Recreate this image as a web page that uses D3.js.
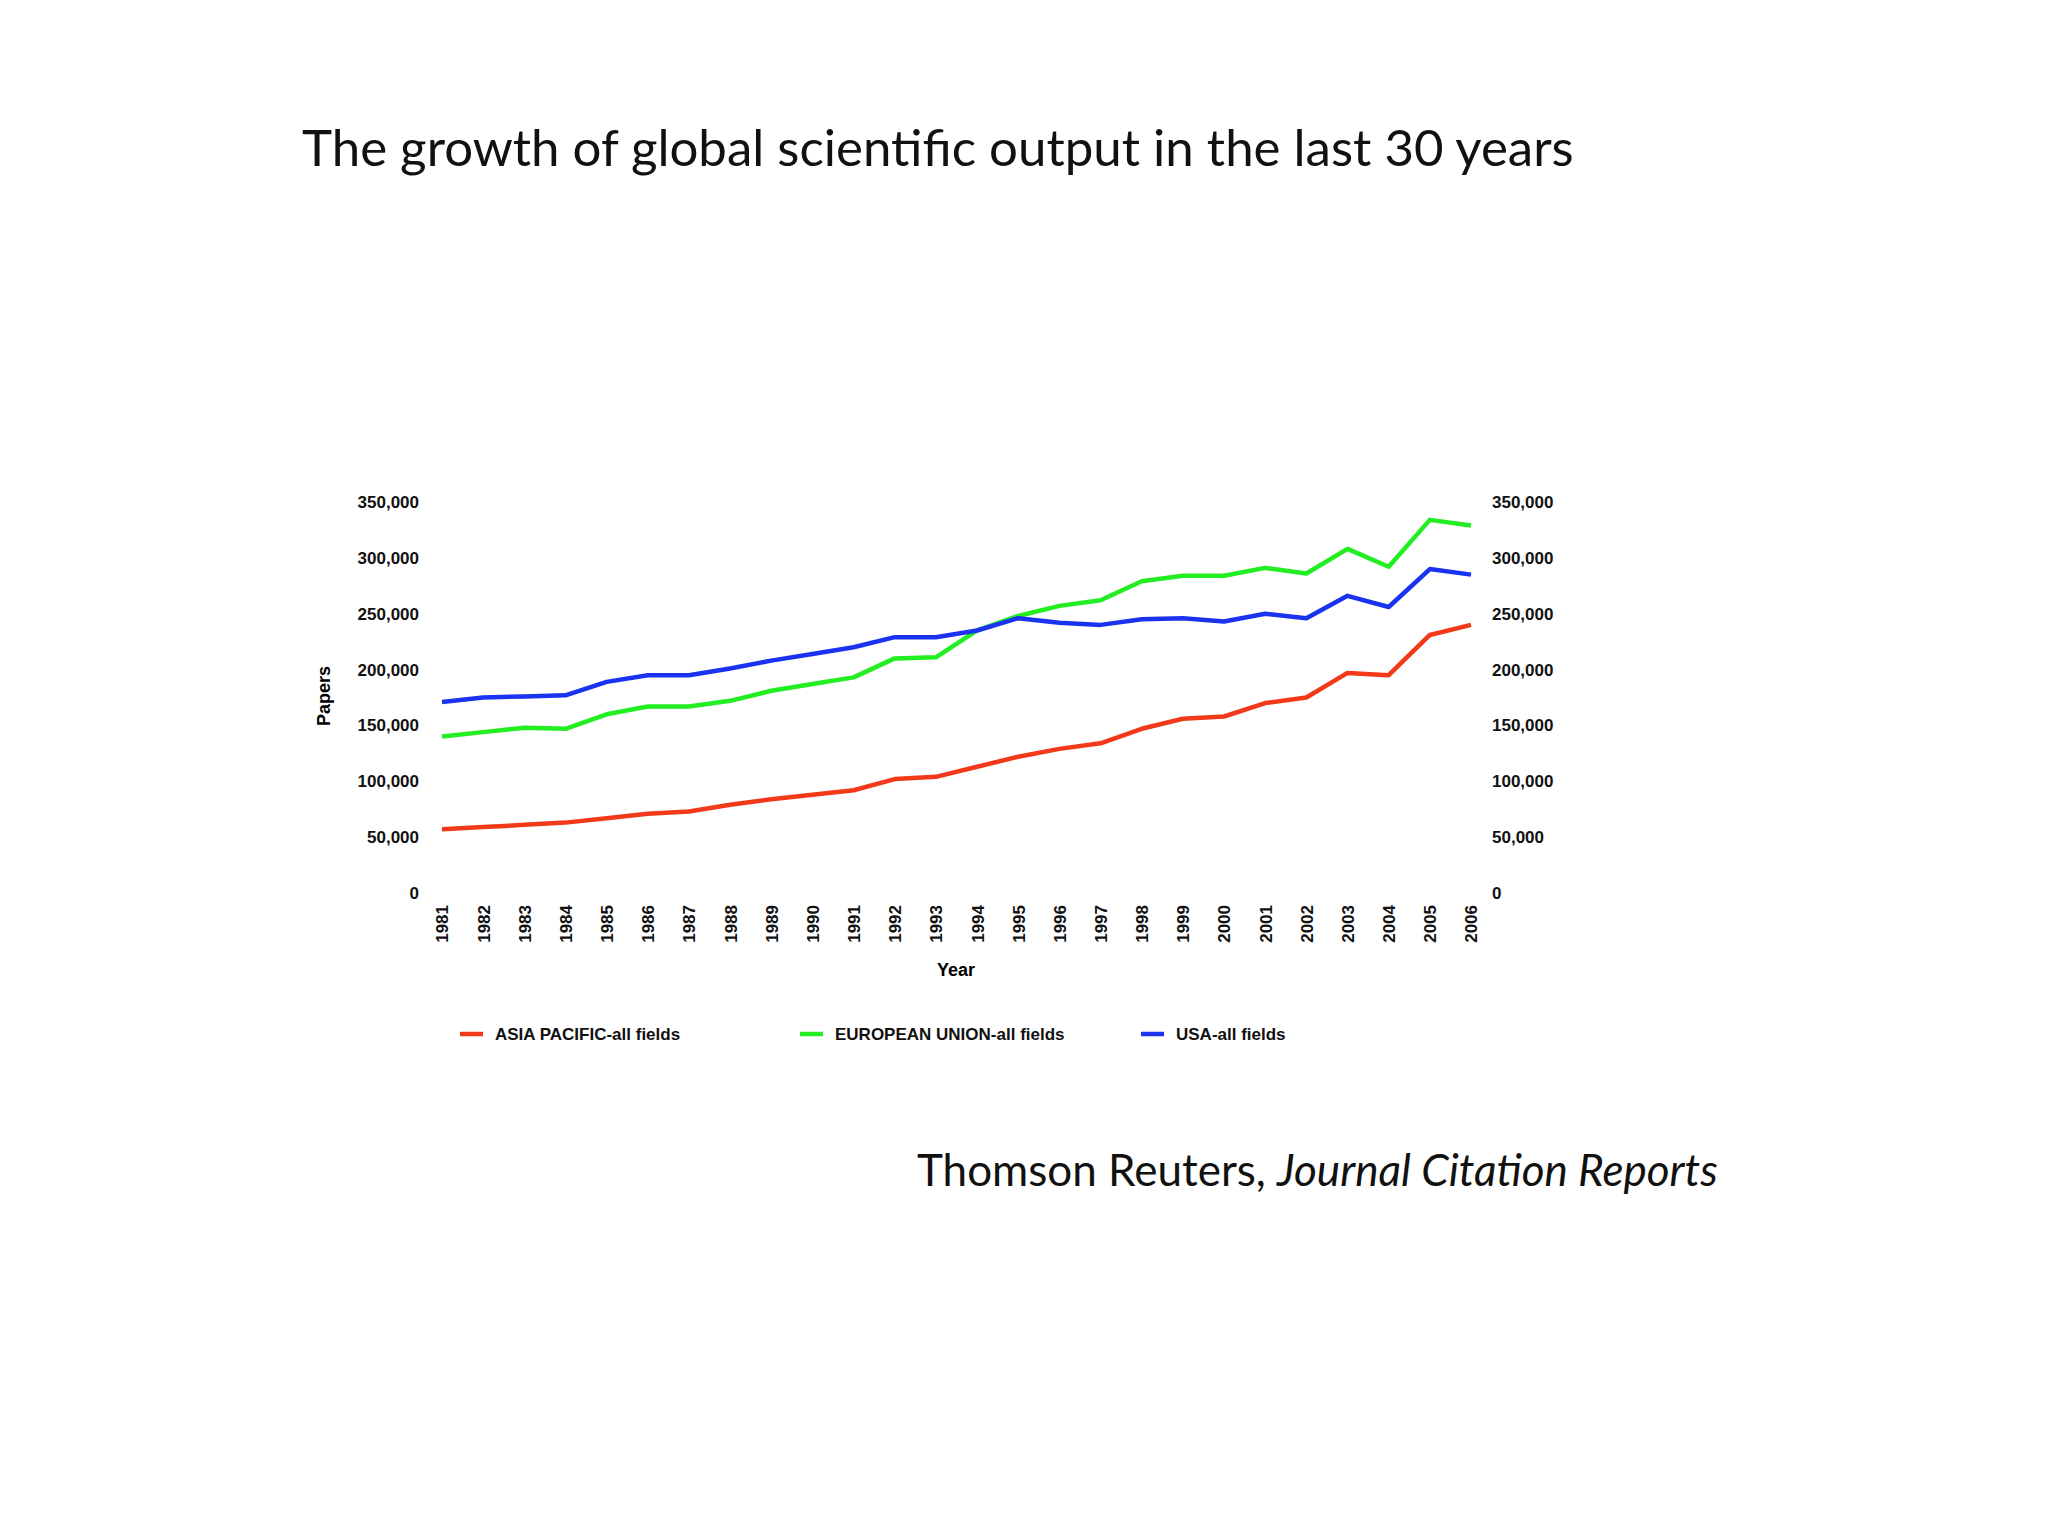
<!DOCTYPE html>
<html><head><meta charset="utf-8">
<script src="https://cdn.jsdelivr.net/npm/d3@7"></script>
<style>body{margin:0;background:#fff}</style></head>
<body><svg id="c" width="2048" height="1536"></svg>
<script>
const years = d3.range(1981, 2007);
const asiaPacific = [57,59,61,63,67,71,73,79,84,88,92,102,104,113,122,129,134,147,156,158,170,175,197,195,231,240].map(v=>v*1000);
const europeanUnion = [140,144,148,147,160,167,167,172,181,187,193,210,211,235,248,257,262,279,284,284,291,286,308,292,334,329].map(v=>v*1000);
const usa = [171,175,176,177,189,195,195,201,208,214,220,229,229,235,246,242,240,245,246,243,250,246,266,256,290,285].map(v=>v*1000);
const yTicks = [0,50000,100000,150000,200000,250000,300000,350000];
const seriesNames = ["ASIA PACIFIC-all fields","EUROPEAN UNION-all fields","USA-all fields"];
const seriesColors = ["#f2391a","#22ee22","#1a33f0"];
const seriesData = [asiaPacific, europeanUnion, usa];

const svg = d3.select("#c");
const x = d3.scalePoint().domain(years).range([442,1471]);
const y = d3.scaleLinear().domain([0,350000]).range([893,502]);
const fmt = d3.format(",");
const tickFont = "'Liberation Sans', Arial, sans-serif";

svg.append("text").attr("x",302).attr("y",166).attr("font-family","Lato, 'Open Sans', sans-serif")
  .attr("font-size",51).attr("fill","#111").text("The growth of global scientific output in the last 30 years");

const left = svg.append("g").attr("transform","translate(425,0)").call(d3.axisLeft(y).tickValues(yTicks).tickFormat(fmt).tickSize(0).tickPadding(6));
const right = svg.append("g").attr("transform","translate(1486,0)").call(d3.axisRight(y).tickValues(yTicks).tickFormat(fmt).tickSize(0).tickPadding(6));
const bottom = svg.append("g").attr("transform","translate(0,905)").call(d3.axisBottom(x).tickSize(0).tickFormat(d=>d));
[left,right,bottom].forEach(g=>{g.select(".domain").remove();
  g.selectAll("text").attr("font-family",tickFont).attr("font-weight","bold").attr("font-size",17).attr("fill","#111");});
bottom.selectAll("text").attr("transform","rotate(-90)").attr("text-anchor","end").attr("x",0).attr("y",0).attr("dx",0).attr("dy","0.35em");

svg.append("text").attr("x",956).attr("y",976).attr("text-anchor","middle").attr("font-family",tickFont)
  .attr("font-weight","bold").attr("font-size",18).text("Year");
svg.append("text").attr("transform","translate(330,696) rotate(-90)").attr("text-anchor","middle").attr("font-family",tickFont)
  .attr("font-weight","bold").attr("font-size",18).text("Papers");

const line = d3.line().x((d,i)=>x(years[i])).y(d=>y(d));
seriesData.forEach((s,i)=>{
  svg.append("path").datum(s).attr("d",line).attr("fill","none").attr("stroke",seriesColors[i])
    .attr("stroke-width",4.5).attr("stroke-linejoin","round");
});

const legX = [460,800,1141];
seriesNames.forEach((n,i)=>{
  svg.append("line").attr("x1",legX[i]).attr("x2",legX[i]+23).attr("y1",1034).attr("y2",1034)
    .attr("stroke",seriesColors[i]).attr("stroke-width",4.5);
  svg.append("text").attr("x",legX[i]+35).attr("y",1040).attr("font-family",tickFont).attr("font-weight","bold")
    .attr("font-size",17).attr("fill","#111").text(n);
});

const foot = svg.append("text").attr("x",917).attr("y",1186).attr("font-family","Lato, 'Open Sans', sans-serif")
  .attr("font-size",44).attr("fill","#111");
foot.append("tspan").text("Thomson Reuters, ");
foot.append("tspan").attr("font-style","italic").text("Journal Citation Reports");
</script></body></html>
